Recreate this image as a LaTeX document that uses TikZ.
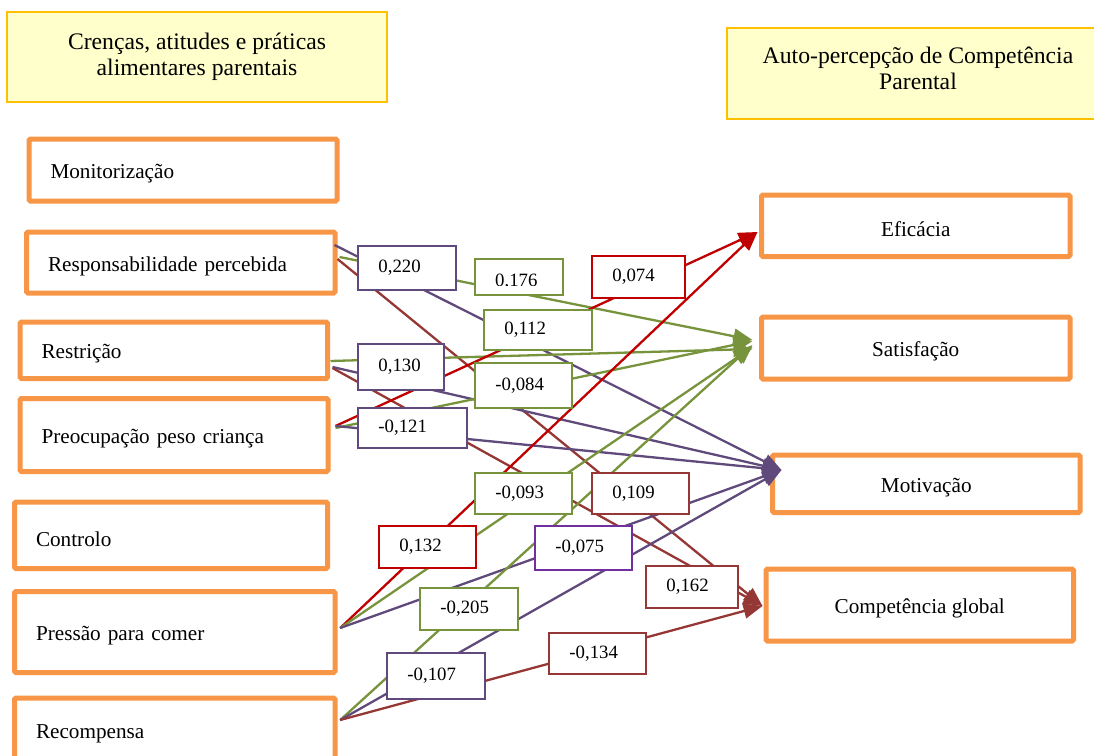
\documentclass[tikz,border=0pt]{standalone}
\usepackage{fontspec}
\setmainfont{Liberation Serif}
\usetikzlibrary{arrows.meta}

\definecolor{boxorange}{HTML}{F79646}
\definecolor{titlefill}{HTML}{FFFFCC}
\definecolor{titledraw}{HTML}{FFC000}
\definecolor{cpurple}{HTML}{604A7B}
\definecolor{cviolet}{HTML}{7030A0}
\definecolor{cgreen}{HTML}{77933C}
\definecolor{cred}{HTML}{C00000}
\definecolor{cbrown}{HTML}{953735}

% box text sits a little below the middle of its box
\newcommand\boxlabel[1]{\raisebox{-3.5pt}[\height][\depth]{#1}}

\tikzset{
  varbox/.style={draw=boxorange, line width=5pt, rounded corners=1.5pt, fill=white,
    inner xsep=21.5pt, align=left, font=\fontsize{21.2}{25}\selectfont},
  outbox/.style={draw=boxorange, line width=5pt, rounded corners=1.5pt, fill=white,
    align=center, font=\fontsize{21.2}{25}\selectfont},
  titlebox/.style={draw=titledraw, line width=2.2pt, fill=titlefill},
  titletext/.style={align=center, font=\fontsize{23.7}{26}\selectfont},
  coef/.style n args={3}{draw=#1, text width=#2, minimum height=#3, fill=white,
    line width=1.8pt, inner xsep=20.5pt, inner ysep=0pt, align=left,
    anchor=north west, font=\fontsize{18.8}{20}\selectfont},
  coeftext/.style={font=\fontsize{18.8}{20}\selectfont, inner sep=0pt},
  link/.style={draw=#1, line width=2.3pt, -{Triangle[length=19pt,width=15pt]}},
}

\begin{document}
\begin{tikzpicture}[x=1pt, y=-1pt]
\useasboundingbox (0,0) rectangle (1094,755);
\clip (0,0) rectangle (1094,755);

% headings
\node[titlebox, minimum width=380pt, minimum height=89.4pt] (t1) at (197.3,57) {};
\node[titletext] (t1txt) at (197,56.5) {Crenças, atitudes e práticas\\alimentares parentais};
\node[titlebox, minimum width=383pt, minimum height=90.7pt] (t2) at (918.5,73.65) {};
\node[titletext] (t2txt) at (918,68.8) {Auto-percepção de Competência\\Parental};

% parental feeding variables
\node[varbox, text width=265pt,   minimum height=62pt]   (mon)    at (183,170)      {\boxlabel{Monitorização}};
\node[varbox, text width=265.5pt, minimum height=61pt]   (resp)   at (180.75,262.5) {\boxlabel{Responsabilidade percebida}};
\node[varbox, text width=264.5pt, minimum height=56.5pt] (restr)  at (173.75,350.25){\boxlabel{Restrição}};
\node[varbox, text width=265pt,   minimum height=73pt]   (preoc)  at (174,435)      {\boxlabel{Preocupação peso criança}};
\node[varbox, text width=270pt,   minimum height=66.5pt] (ctrl)   at (171,535.25)   {\boxlabel{Controlo}};
\node[varbox, text width=277.5pt, minimum height=81pt]   (press)  at (174.75,632)   {\boxlabel{Pressão para comer}};
\node[varbox, text width=277.5pt, minimum height=64pt]   (recomp) at (174.75,730)   {\boxlabel{Recompensa}};

% parental competence outcomes
\node[outbox, minimum width=308.5pt, minimum height=61.5pt] (ef)   at (915.75,225.75) {\boxlabel{Eficácia}};
\node[outbox, minimum width=308.5pt, minimum height=62pt]   (sat)  at (915.75,348)    {\boxlabel{Satisfação}};
\node[outbox, minimum width=307.5pt, minimum height=57.5pt] (mot)  at (926.25,483.75) {\boxlabel{Motivação}};
\node[outbox, minimum width=307.5pt, minimum height=72pt]   (comp) at (919.75,605)    {\boxlabel{Competência global}};

% arrow end points
\coordinate (efTip)   at ([shift={(-1.5,6.25)}]ef.west);
\coordinate (satTip)  at ([shift={(-6.5,-5)}]sat.west);
\coordinate (motTip)  at ([shift={(11.5,-13.75)}]mot.west);
\coordinate (compTip) at ([shift={(-1,1)}]comp.west);

% start points
\coordinate (respA)  at ([shift={(-3,-17.5)}]resp.east);
\coordinate (respB)  at ([shift={(2,-5.5)}]resp.east);
\coordinate (respC)  at ([shift={(0,-3.5)}]resp.east);
\coordinate (restrA) at ([shift={(0.5,10.75)}]restr.east);
\coordinate (restrB) at ([shift={(2.5,16.75)}]restr.east);
\coordinate (restrC) at ([shift={(2.5,17.75)}]restr.east);
\coordinate (preocO) at ([shift={(5,-9)}]preoc.east);
\coordinate (pressO) at ([shift={(2.7,-4)}]press.east);
\coordinate (recO)   at ([shift={(2.7,-10)}]recomp.east);

% paths
\draw[link=cpurple] (respA) -- (motTip);
\draw[link=cgreen]  (respB) -- ([shift={(0,-3)}]satTip);
\draw[link=cbrown]  (respC) -- (compTip);

\draw[link=cgreen]  (restrA) -- ([shift={(0,6)}]satTip);
\draw[link=cpurple] (restrB) -- (motTip);
\draw[link=cbrown]  (restrC) -- (compTip);

\draw[link=cred]    (preocO) -- (efTip);
\draw[link=cgreen]  ([shift={(0,2)}]preocO) -- ([shift={(0,-2)}]satTip);
\draw[link=cpurple] (preocO) -- (motTip);

\draw[link=cred]    (pressO) -- (efTip);
\draw[link=cgreen]  (pressO) -- ([shift={(0,4)}]satTip);
\draw[link=cpurple] (pressO) -- (motTip);

\draw[link=cgreen]  (recO) -- ([shift={(0,2)}]satTip);
\draw[link=cpurple] (recO) -- (motTip);
\draw[link=cbrown]  (recO) -- (compTip);

% path coefficients
\node[coef={cpurple}{57pt}{44pt}] (l220) at (357,245) {0,220};
\node[coef={cgreen}{47pt}{36pt}]  (l176) at (474,258) {};
\begin{scope}
  \clip ([shift={(2,2)}]l176.north west) rectangle ([shift={(-2,-10)}]l176.south east);
  \node[coeftext, anchor=base west] (l176t) at (495,286) {0,176};
\end{scope}
\node[coef={cred}{52pt}{42pt}]     (l074) at (591,255) {0,074};
\node[coef={cgreen}{67pt}{40pt}]   (l112) at (483,309) {0,112};
\node[coef={cpurple}{45pt}{46pt}]  (l130) at (357,343) {0,130};
\node[coef={cgreen}{56pt}{45pt}]   (l084) at (474,362) {-0,084};
\node[coef={cpurple}{68pt}{40pt}]  (l121) at (357,407) {-0,121};
\node[coef={cgreen}{56pt}{41pt}]   (l093) at (474,472) {-0,093};
\node[coef={cbrown}{56pt}{41pt}]   (l109) at (591,472) {0,109};
\node[coef={cred}{56pt}{42pt}]     (l132) at (378,525) {0,132};
\node[coef={cviolet}{56pt}{44pt}]  (l075) at (534,525) {-0,075};
\node[coef={cgreen}{57pt}{42pt}]   (l205) at (419,587) {-0,205};
\node[coef={cbrown}{51pt}{42pt}]   (l162) at (645,565) {0,162};
\node[coef={cpurple}{57pt}{46pt}]  (l107) at (386,652) {-0,107};
\node[coef={cbrown}{56pt}{41pt}]   (l134) at (548,632) {-0,134};
\end{tikzpicture}
\end{document}
